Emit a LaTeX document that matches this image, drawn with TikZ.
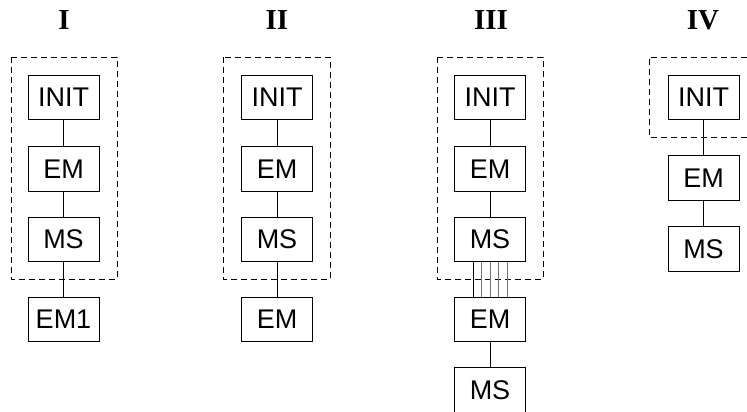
\documentclass[tikz,border=0pt]{standalone}
\usepackage{fontspec}
\setmainfont{Liberation Serif}
\setsansfont{Liberation Sans}
\begin{document}
\begin{tikzpicture}[x=1pt,y=-1pt,
  box/.style={draw,line width=0.8pt,minimum width=71pt,minimum height=44.5pt,inner sep=0pt,
    font=\sffamily\fontsize{27}{27}\selectfont},
  group/.style={draw,line width=0.8pt,dash pattern=on 6pt off 4pt},
  link/.style={draw,line width=0.8pt},
  faint/.style={draw,line width=0.8pt,black!55},
  head/.style={font=\bfseries\fontsize{29}{29}\selectfont,inner sep=0pt}]
\useasboundingbox (0,0) rectangle (747,412);

% headers
\node[head,anchor=base] (h1) at (64,30) {I};
\node[head,anchor=base] (h2) at (277,30) {II};
\node[head,anchor=base] (h3) at (491,30) {III};
\node[head,anchor=base] (h4) at (703,30) {IV};

% group boxes
\draw[group] (11,57) rectangle (117,279);
\draw[group] (223,57) rectangle (330,279);
\draw[group] (437,57) rectangle (543,279);
\draw[group] (747,57) -| (649,137) -- (747,137);

% column I
\node[box] (i1) at (63.5,97.5) {INIT};
\node[box] (e1) at (63.5,169) {EM};
\node[box] (m1) at (63.5,239.5) {MS};
\node[box] (x1) at (63.5,319.5) {EM1};
\draw[link] (i1) -- (e1);
\draw[link] (e1) -- (m1);
\draw[link] (m1) -- (x1);

% column II
\node[box] (i2) at (277,97.5) {INIT};
\node[box] (e2) at (277,169) {EM};
\node[box] (m2) at (277,239.5) {MS};
\node[box] (x2) at (277,319.5) {EM};
\draw[link] (i2) -- (e2);
\draw[link] (e2) -- (m2);
\draw[link] (m2) -- (x2);

% column III
\node[box] (i3) at (490,97.5) {INIT};
\node[box] (e3) at (490,169) {EM};
\node[box] (m3) at (490,239.5) {MS};
\node[box] (x3) at (490,319.5) {EM};
\node[box] (y3) at (490,390) {MS};
\draw[link] (i3) -- (e3);
\draw[link] (e3) -- (m3);
\draw[link] ([xshift=-17pt]m3.south) -- ([xshift=-17pt]x3.north);
\draw[faint] ([xshift=-8.5pt]m3.south) -- ([xshift=-8.5pt]x3.north);
\draw[faint] (m3.south) -- (x3.north);
\draw[faint] ([xshift=8.5pt]m3.south) -- ([xshift=8.5pt]x3.north);
\draw[faint] ([xshift=17pt]m3.south) -- ([xshift=17pt]x3.north);
\draw[link] (x3) -- (y3);

% column IV
\node[box] (i4) at (703.5,97.5) {INIT};
\node[box] (e4) at (703.5,178) {EM};
\node[box] (m4) at (703.5,249) {MS};
\draw[link] (i4) -- (e4);
\draw[link] (e4) -- (m4);
\end{tikzpicture}
\end{document}
